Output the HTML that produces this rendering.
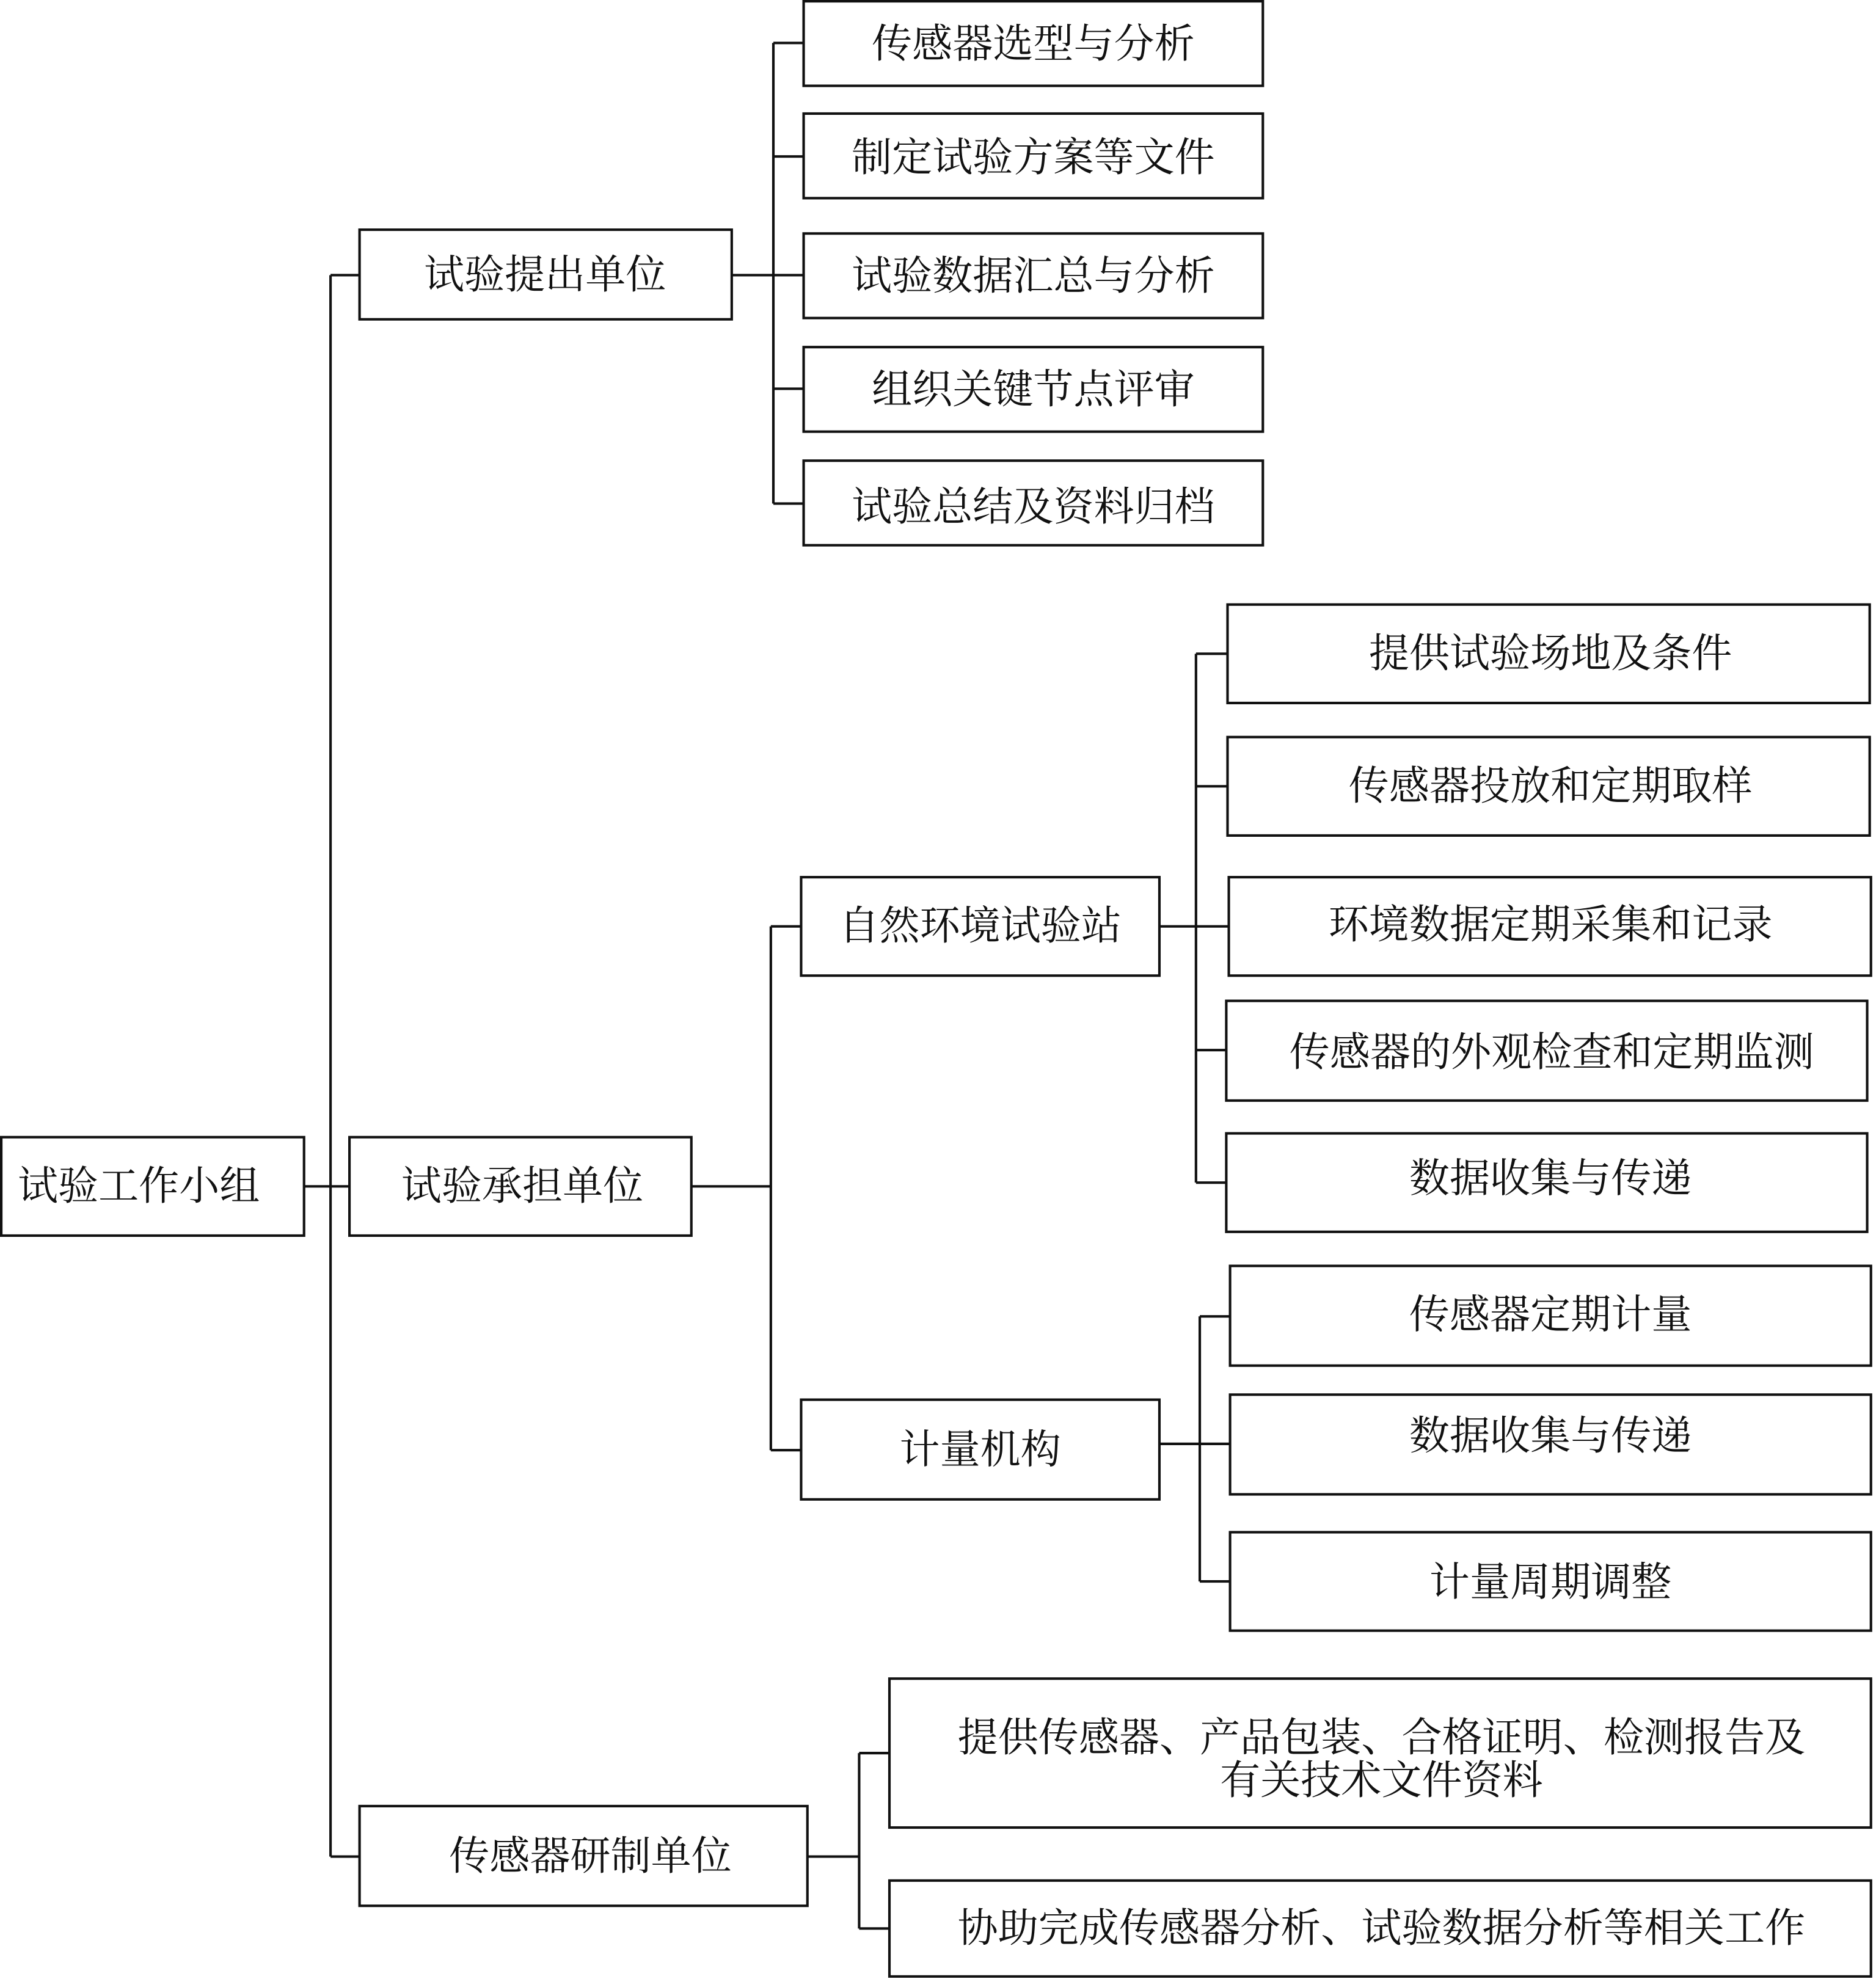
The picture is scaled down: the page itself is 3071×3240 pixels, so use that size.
<!DOCTYPE html>
<html><head><meta charset="utf-8"><style>
html,body{margin:0;padding:0;background:#fff;}
svg{display:block;}
text{font-family:"Liberation Serif","Noto Serif CJK SC","Noto Sans CJK SC",serif;font-size:32px;fill:#111;text-anchor:middle;dominant-baseline:central;}
rect{fill:#fff;stroke:#111;stroke-width:2;}
line,polyline{stroke:#111;stroke-width:2;fill:none;}
</style></head><body>
<svg width="3071" height="3240" viewBox="0 0 1487 1568" preserveAspectRatio="none" xmlns="http://www.w3.org/2000/svg">
<line x1="241" y1="940" x2="277" y2="940"/>
<line x1="262" y1="218" x2="262" y2="1471"/>
<line x1="262" y1="218" x2="285" y2="218"/>
<line x1="262" y1="1471" x2="285" y2="1471"/>
<line x1="580" y1="218" x2="637" y2="218"/>
<line x1="613" y1="34" x2="613" y2="399"/>
<line x1="613" y1="34" x2="637" y2="34"/>
<line x1="613" y1="124" x2="637" y2="124"/>
<line x1="613" y1="308" x2="637" y2="308"/>
<line x1="613" y1="399" x2="637" y2="399"/>
<line x1="548" y1="940" x2="611" y2="940"/>
<line x1="611" y1="734" x2="611" y2="1149"/>
<line x1="611" y1="734" x2="635" y2="734"/>
<line x1="611" y1="1149" x2="635" y2="1149"/>
<line x1="919" y1="734" x2="974" y2="734"/>
<line x1="948" y1="518" x2="948" y2="937"/>
<line x1="948" y1="518" x2="973" y2="518"/>
<line x1="948" y1="623" x2="973" y2="623"/>
<line x1="948" y1="832" x2="972" y2="832"/>
<line x1="948" y1="937" x2="972" y2="937"/>
<line x1="919" y1="1144" x2="975" y2="1144"/>
<line x1="951" y1="1043" x2="951" y2="1253"/>
<line x1="951" y1="1043" x2="975" y2="1043"/>
<line x1="951" y1="1253" x2="975" y2="1253"/>
<line x1="640" y1="1471" x2="681" y2="1471"/>
<line x1="681" y1="1389" x2="681" y2="1528"/>
<line x1="681" y1="1389" x2="705" y2="1389"/>
<line x1="681" y1="1528" x2="705" y2="1528"/>
<rect x="1" y="901" width="240" height="78"/><text x="110" y="940">试验工作小组</text>
<rect x="285" y="182" width="295" height="71"/><text x="432" y="218">试验提出单位</text>
<rect x="277" y="901" width="271" height="78"/><text x="414" y="940">试验承担单位</text>
<rect x="285" y="1431" width="355" height="79"/><text x="468" y="1471">传感器研制单位</text>
<rect x="637" y="1" width="364" height="67"/><text x="819" y="35">传感器选型与分析</text>
<rect x="637" y="90" width="364" height="67"/><text x="819" y="125">制定试验方案等文件</text>
<rect x="637" y="185" width="364" height="67"/><text x="819" y="219">试验数据汇总与分析</text>
<rect x="637" y="275" width="364" height="67"/><text x="819" y="309">组织关键节点评审</text>
<rect x="637" y="365" width="364" height="67"/><text x="819" y="402">试验总结及资料归档</text>
<rect x="635" y="695" width="284" height="78"/><text x="777" y="734">自然环境试验站</text>
<rect x="635" y="1109" width="284" height="79"/><text x="777" y="1149">计量机构</text>
<rect x="973" y="479" width="509" height="78"/><text x="1229" y="518">提供试验场地及条件</text>
<rect x="973" y="584" width="509" height="78"/><text x="1229" y="623">传感器投放和定期取样</text>
<rect x="974" y="695" width="509" height="78"/><text x="1229" y="733">环境数据定期采集和记录</text>
<rect x="972" y="793" width="508" height="79"/><text x="1230" y="834">传感器的外观检查和定期监测</text>
<rect x="972" y="898" width="508" height="78"/><text x="1229" y="934">数据收集与传递</text>
<rect x="975" y="1003" width="508" height="79"/><text x="1229" y="1042">传感器定期计量</text>
<rect x="975" y="1105" width="508" height="79"/><text x="1229" y="1138">数据收集与传递</text>
<rect x="975" y="1214" width="508" height="78"/><text x="1229" y="1254">计量周期调整</text>
<rect x="705" y="1330" width="778" height="118"/><text x="1095" y="1377">提供传感器、产品包装、合格证明、检测报告及</text><text x="1095" y="1411">有关技术文件资料</text>
<rect x="705" y="1490" width="778" height="76"/><text x="1095" y="1528">协助完成传感器分析、试验数据分析等相关工作</text>
</svg>
</body></html>
